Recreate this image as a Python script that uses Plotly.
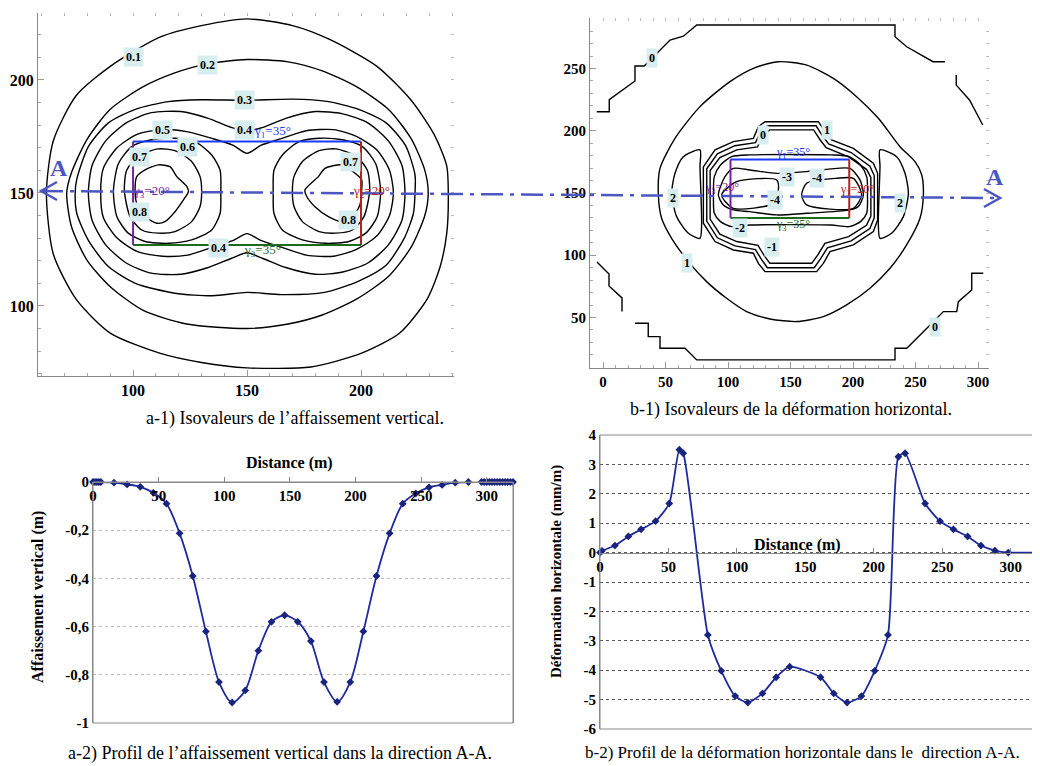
import plotly.graph_objects as go

W, H = 1040, 766
OFF = 8  # page margin of the browser around the figure
SERIF = "Liberation Serif"

# ---------------- a-1) isovaleurs de l'affaissement vertical (m) ----------------
a1_iso_01 = [(62, 150), (65, 173), (75, 193), (90, 206), (112, 219), (130, 224), (150, 227), (170, 224),
             (186, 218), (207, 206), (222, 191), (232, 176), (237.6, 162), (238.3, 150), (237.6, 132),
             (234.6, 117), (229, 103), (217, 88), (200, 79), (178, 73), (150, 72.6), (130, 75), (112, 79),
             (90, 88), (75, 103), (65, 123), (62, 150)]
a1_iso_02 = [(70.9, 150), (73, 159), (79.7, 173.5), (90, 187), (104.5, 197), (118, 203), (132, 207), (150, 209),
             (168, 208), (183, 204), (198, 197), (212, 187), (222, 174), (228, 160), (229.5, 150), (228, 140),
             (222, 126), (212, 113), (198, 103), (183, 96), (168, 92), (150, 90), (123.5, 92), (104.5, 98),
             (90, 108.5), (79.7, 120.4), (73, 135), (70.9, 150)]
a1_iso_03 = [(74.6, 150), (75.3, 156), (80.4, 170.5), (89.2, 181), (101, 187), (115.5, 190.4), (130, 191.2),
             (150, 191), (170, 191.5), (185, 190.5), (199, 187), (211, 181), (219.5, 171), (223.7, 158),
             (223.7, 150), (223, 141), (219, 130), (211, 118), (199, 111), (184, 106), (165, 105), (150, 106),
             (135, 104.5), (118.4, 105.6), (101, 110), (89.2, 117.4), (80.4, 129), (75.3, 141), (74.6, 150)]
a1_iso_04 = [(80.4, 150), (82, 162), (88, 173), (97, 181), (108, 185.5), (121, 186), (133, 183), (143, 179),
             (150, 177.5), (157, 179), (167, 183), (180, 186), (192, 185), (203, 181), (212, 173), (218, 162),
             (219.3, 150), (218, 138), (212, 127), (203, 119), (192, 115), (180, 114), (167, 117), (157, 121),
             (150, 123.5), (143, 121), (133, 117), (121, 114), (108, 114.5), (97, 119), (88, 127), (82, 138),
             (80.4, 150)]
a1_iso_05 = [(85.8, 150), (87, 161), (93, 170), (102, 176), (113, 178), (124, 177), (135, 174), (144, 171),
             (150, 167.5), (156, 171), (165, 174), (176, 177.5), (188, 178), (198, 175), (207, 169),
             (212.5, 160), (214.2, 150), (212.5, 140), (207, 131), (198, 125), (188, 122), (176, 122.5),
             (165, 126), (156, 129), (150, 132), (144, 129), (135, 126), (124, 122.5), (113, 122), (102, 124),
             (93, 130), (87, 139), (85.8, 150)]
a1_iso_06_g = [(91.4, 151), (93.6, 163), (99.4, 170.5), (108.2, 173.5), (118.4, 174.2), (127.2, 172.7),
               (134.5, 166.8), (138.2, 160), (138.5, 150), (138.2, 141), (134.5, 133.6), (125.7, 129.2),
               (115.5, 127.7), (105.3, 128.5), (97.9, 132.2), (92.9, 139.5), (91.4, 151)]
a1_iso_06_d = [(208.6, 151), (206.4, 163), (200.6, 170.5), (191.8, 173.5), (181.6, 174.2), (172.8, 172.7),
               (165.5, 166.8), (161.8, 160), (161.5, 150), (161.8, 141), (165.5, 133.6), (174.3, 129.2),
               (184.5, 127.7), (194.7, 128.5), (202.1, 132.2), (207.1, 139.5), (208.6, 151)]
a1_iso_07_g = [(96.2, 151), (97.2, 160), (102.3, 166.4), (111.1, 169.5), (118.4, 168.7), (125.7, 163.9),
               (129.4, 157.2), (130.1, 151), (129.4, 144), (125.7, 137.3), (118.4, 132.9), (111.1, 132.2),
               (103.8, 133.6), (98.7, 139.5), (96.2, 151)]
a1_iso_07_d = [(203.8, 151), (202.8, 160), (197.7, 166.4), (188.9, 169.5), (181.6, 168.7), (174.3, 163.9),
               (170.6, 157.2), (169.9, 151), (170.6, 144), (174.3, 137.3), (181.6, 132.9), (188.9, 132.2),
               (196.2, 133.6), (201.3, 139.5), (203.8, 151)]
a1_iso_08_g = [(100.9, 151.3), (101.6, 157.2), (105.3, 160.2), (111.1, 162.4), (116.2, 161.6), (119.2, 157.2),
               (123.6, 152.8), (124.3, 150.6), (122.1, 146.9), (118.4, 141.7), (114, 137.3), (110.4, 136.6),
               (105.3, 139.5), (101.6, 145.4), (100.9, 151.3)]
a1_iso_08_d = [(175.4, 151.3), (181.3, 157.2), (184.2, 160.9), (191.5, 162.4), (197.4, 158.7), (200.3, 155.8),
               (200.3, 151.3), (199.6, 145), (197.4, 141), (191.5, 137.3), (185.7, 139.5), (179.8, 143.9),
               (176.2, 148.4), (175.4, 151.3)]
a1_labels = [("0.1", 100, 210), ("0.2", 132.5, 206.6), ("0.3", 149, 191), ("0.4", 149, 178),
             ("0.5", 113, 178), ("0.6", 124, 170.4), ("0.7", 103, 166), ("0.8", 103, 141.6),
             ("0.4", 137.5, 125.6), ("0.7", 195.2, 163.7), ("0.8", 194.3, 138)]
a1_panel_x = [100, 200]
a1_panel_y = [127, 172.7]
a1_gammas = [("γ<sub>1</sub>=35°", 161, 177), ("γ<sub>3</sub>=20°", 108, 150.8),
             ("γ<sub>2</sub>=20°", 204.5, 150.8), ("γ<sub>3</sub>=35°", 157, 124.4)]

# ---------------- b-1) isovaleurs de la deformation horizontale (mm/m) ----------------
b1_iso_0_a = [(-5, 215.3), (5, 215.3), (5, 225), (16, 233), (25.6, 240), (25.6, 252), (33, 252), (53.6, 272.9),
              (64.3, 276), (75, 285), (233.6, 285), (233.6, 275.5), (243, 267.5), (264, 255.5), (273.6, 255.5)]
b1_iso_0_b = [(282.6, 244.8), (282.6, 236.7), (293.2, 224.7), (303.8, 204.6)]
b1_iso_0_c = [(304.2, 85.5), (295, 85.5), (295, 72.1), (284.3, 62.7), (283, 54.7), (272.3, 54.7), (256.3, 38.6),
              (243, 25.3), (233.6, 25.3), (233.6, 15.9), (75, 15.9), (65.6, 25.3), (45.6, 25.3), (45.6, 34.6),
              (36.2, 34.6), (36.2, 45.3), (25.6, 45.3)]
b1_iso_0_d = [(-4.8, 94.6), (4.8, 84.9), (4.8, 75.3), (15.2, 65.7), (15.2, 54.7)]
b1_iso_1 = [(44.3, 148.4), (45.6, 169.8), (57.6, 193.9), (77.6, 219.4), (101.6, 239.5), (120.3, 250.2),
            (140.3, 255.5), (163, 252.8), (184.3, 242.1), (202.9, 227.4), (220.3, 210), (237.6, 187.2),
            (249.6, 175.2), (255, 164.5), (256.3, 148.4), (253.6, 129.7), (242.9, 108.3), (229.6, 89.5),
            (213.6, 73.5), (194.9, 60.1), (176.3, 50.7), (154.9, 46.7), (133.6, 48.8), (114.9, 54.7),
            (98.9, 65.4), (82.9, 78.8), (68.3, 94.9), (54.9, 113.6), (46.9, 129.7), (44.3, 148.4)]
b1_iso_2_g = [(77.6, 184.6), (64.3, 179.2), (57.6, 165.8), (55, 149.8), (58.9, 131), (68.3, 117.6),
              (77.6, 113.6), (78.9, 124.3), (77.6, 171.2), (77.6, 184.6)]
b1_iso_2_d = [(221.6, 184.6), (234.9, 179.2), (241.6, 165.8), (244.3, 149.8), (240.3, 131), (230.9, 117.6),
              (221.6, 113.6), (220.3, 124.3), (221.6, 171.2), (221.6, 184.6)]
b1_iso_1_in = [(80.3, 148), (80.3, 171), (89.6, 184.6), (104.3, 191.3), (120.3, 193.9), (124.3, 203.3),
               (129.6, 207.3), (172.3, 207.3), (177.6, 199.3), (182.9, 192.6), (200.3, 185.9), (216.3, 173.9),
               (219.7, 165.8), (219.7, 128.3), (216.3, 119), (200.3, 108.3), (181.6, 102.9), (176.3, 93.5),
               (170.9, 86.8), (129.6, 86.8), (124.3, 93.5), (120.3, 101.6), (104.3, 104.2), (89.6, 111),
               (80.3, 125.7), (80.3, 148)]
b1_iso_0_in = [(83, 148), (83, 169.5), (91.5, 181.5), (105.5, 188), (122, 190.5), (126.5, 200), (131.5, 204),
               (170.5, 204), (175.5, 196), (180.5, 189.5), (198.5, 182.5), (213.5, 171.5), (217, 164),
               (217, 130), (213.5, 121.5), (198.5, 111.5), (179.5, 106), (174, 97), (169, 90), (131.5, 90),
               (126.5, 97), (122, 104.5), (105.5, 107.5), (91.5, 114), (83, 127.5), (83, 148)]
b1_iso_m1 = [(85.7, 148), (85.7, 168), (93.5, 178.5), (107, 184.7), (123.5, 187), (128.5, 196.7),
             (133.5, 200.7), (168.5, 200.7), (173.5, 193), (178.5, 186.5), (196.5, 179), (210.8, 169),
             (214.3, 162.5), (214.3, 131.5), (210.8, 124), (196.5, 115), (177.5, 109.5), (172, 100.5),
             (167, 93.5), (133.5, 93.5), (128.5, 100.5), (124, 108), (107, 111), (93.5, 117), (85.7, 129),
             (85.7, 148)]
b1_iso_m2 = [(88.4, 148.4), (89, 163), (94, 172.5), (103, 179.2), (117.6, 180.6), (182.4, 180.6), (197, 179.2),
             (206, 172.5), (211, 163), (211.6, 148.4), (211, 134), (206, 127), (197, 123), (182.4, 124.3),
             (117.6, 124.3), (103, 123), (94, 127), (89, 134), (88.4, 148.4)]
b1_iso_m3 = [(92.3, 148.4), (97.6, 163.1), (104.3, 169.8), (117.6, 168.5), (138.9, 165.8), (162.9, 167.2),
             (186.9, 169.8), (197.6, 169.8), (205.6, 160.5), (208.3, 148.4), (204.3, 139.1), (197.6, 136.4),
             (162.9, 133.7), (138.9, 132.4), (117.6, 135), (104.3, 136.4), (96.3, 140.4), (92.3, 148.4)]
b1_iso_m4_g = [(94.9, 148.4), (106.9, 159.1), (138.9, 160.5), (140.3, 152.4), (136.3, 141.7), (104.3, 137.7),
               (94.9, 148.4)]
b1_iso_m4_d = [(158.9, 148.4), (162.9, 157.8), (186.9, 161.8), (200.3, 161.8), (206.9, 148.4), (200.3, 137.7),
               (162.9, 140.4), (158.9, 148.4)]
b1_labels = [("0", 38.9, 258.2), ("0", 265.6, 42.7), ("1", 66.9, 93.5), ("2", 56.3, 145.7), ("2", 237.6, 141.7),
             ("0", 128.3, 196.6), ("1", 178.9, 200.6), ("-3", 146.9, 163.1), ("-4", 170.9, 161.8),
             ("-4", 137.6, 144.4), ("-2", 109.6, 121.6), ("-1", 134.9, 106.9)]
b1_panel_x = [102, 197]
b1_panel_y = [130, 177]
b1_gammas = [("γ<sub>1</sub>=35°", 152.3, 182.5), ("γ<sub>3</sub>=20°", 94.9, 153.8),
             ("γ<sub>1</sub>=20°", 202.9, 152.4), ("γ<sub>3</sub>=35°", 152.3, 124.3)]

# ---------------- a-2) profil de l'affaissement vertical ----------------
a2_dist = [0, 1.5, 3, 4.5, 6, 16, 26, 36, 46, 56, 66, 76, 86, 96, 106, 116, 126, 136, 146, 156, 166, 176, 186,
           196, 206, 216, 226, 236, 246, 256, 266, 276, 286, 296, 298, 300, 302, 304, 306, 308, 310, 312,
           314, 316, 318, 320]
a2_aff = [0, 0, 0, 0, 0, -0.003, -0.01, -0.02, -0.045, -0.09, -0.213, -0.39, -0.62, -0.83, -0.915, -0.865,
          -0.70, -0.58, -0.553, -0.58, -0.66, -0.83, -0.912, -0.83, -0.62, -0.39, -0.213, -0.09, -0.047,
          -0.022, -0.012, -0.003, 0, 0, 0, 0, 0, 0, 0, 0, 0, 0, 0, 0, 0, 0]

# ---------------- b-2) profil de la deformation horizontale ----------------
b2_dist = [0, 1.5, 10.9, 20.7, 30, 40.6, 50.6, 58, 60.8, 78.8, 88.6, 98.8, 108, 118.7, 128.7, 138.6, 161.1,
           170.8, 180.5, 191, 200.7, 210.4, 218, 222.9, 237.5, 248.4, 258.2, 268.6, 278.3, 288.5, 298.3, 318]
b2_def = [0, 0.06, 0.24, 0.55, 0.79, 1.07, 1.67, 3.5, 3.38, -2.8, -4.02, -4.88, -5.1, -4.79, -4.24, -3.88,
          -4.24, -4.79, -5.1, -4.88, -4.02, -2.8, 3.26, 3.38, 1.67, 1.07, 0.79, 0.55, 0.24, 0.07, 0, 0]

BLUE, PURPLE, RED, GREEN = "#1a3cff", "#7b1fa2", "#b8201c", "#1e6b1e"
GAMMA_COLORS = [BLUE, PURPLE, RED, GREEN]
NAVY = "#1f2a9e"


def px_x(px):
    return (px - OFF) / W


def px_y(py):
    return 1 - (py - OFF) / H


fig = go.Figure()


def poly(pts, xa, ya, color="black", width=1.4, shape="linear"):
    fig.add_trace(go.Scatter(x=[p[0] for p in pts], y=[p[1] for p in pts], mode="lines",
                             line=dict(color=color, width=width, shape=shape, smoothing=0.7),
                             xaxis=xa, yaxis=ya, hoverinfo="skip", showlegend=False))


for iso in [a1_iso_01, a1_iso_02, a1_iso_03, a1_iso_04, a1_iso_05, a1_iso_06_g, a1_iso_06_d,
            a1_iso_07_g, a1_iso_07_d, a1_iso_08_g, a1_iso_08_d]:
    poly(iso, "x", "y", shape="spline")

for iso in [b1_iso_0_a, b1_iso_0_b, b1_iso_0_c, b1_iso_0_d, b1_iso_1_in, b1_iso_0_in, b1_iso_m1]:
    poly(iso, "x2", "y2")
for iso in [b1_iso_1, b1_iso_2_g, b1_iso_2_d, b1_iso_m2, b1_iso_m3, b1_iso_m4_g, b1_iso_m4_d]:
    poly(iso, "x2", "y2", shape="spline")


def panel(px_, py_, xa, ya):
    (x0, x1), (y0, y1) = px_, py_
    poly([(x0, y1), (x1, y1)], xa, ya, BLUE, 2)
    poly([(x1, y1), (x1, y0)], xa, ya, RED, 2)
    poly([(x0, y0), (x1, y0)], xa, ya, GREEN, 2)
    poly([(x0, y0), (x0, y1)], xa, ya, PURPLE, 2)


panel(a1_panel_x, a1_panel_y, "x", "y")
panel(b1_panel_x, b1_panel_y, "x2", "y2")

# profiles
fig.add_trace(go.Scatter(x=a2_dist, y=a2_aff, mode="lines+markers", xaxis="x3", yaxis="y3",
                         line=dict(color=NAVY, width=1.8, shape="spline", smoothing=0.8),
                         marker=dict(symbol="diamond", size=6, color="#1a237e"),
                         cliponaxis=False, showlegend=False))
fig.add_trace(go.Scatter(x=b2_dist, y=b2_def, mode="lines+markers", xaxis="x4", yaxis="y4",
                         line=dict(color=NAVY, width=1.8, shape="spline", smoothing=0.6),
                         marker=dict(symbol="diamond", size=6, color="#1a237e"),
                         cliponaxis=False, showlegend=False))

# empty traces so the decorative top/right tick axes are drawn
for xa, ya in [("x5", "y"), ("x", "y5"), ("x6", "y2"), ("x2", "y6")]:
    fig.add_trace(go.Scatter(x=[], y=[], xaxis=xa, yaxis=ya, showlegend=False))

tick_bold = dict(family=SERIF, size=16, color="black", weight="bold")
tick_bold15 = dict(family=SERIF, size=15, color="black", weight="bold")
minor10 = dict(dtick=10, ticks="inside", ticklen=3, tickcolor="#aaa")
deco = dict(showline=False, ticks="inside", ticklen=3, tickcolor="#bbb", dtick=10,
            showticklabels=False, showgrid=False, zeroline=False, automargin=False)

a1_xr, a1_yr = [58.3, 240.8], [69.0, 229.6]
b1_xr, b1_yr = [-10.4, 308.8], [9.4, 290.6]
b2_yr = [-6, 4]
y3_dom = [px_y(723), px_y(482)]
y4_dom = [px_y(729), px_y(435)]
x4_pos = y4_dom[0] + (0 - b2_yr[0]) / (b2_yr[1] - b2_yr[0]) * (y4_dom[1] - y4_dom[0])

fig.update_layout(
    width=W, height=H, margin=dict(l=0, r=0, t=0, b=0, autoexpand=False),
    paper_bgcolor="white", plot_bgcolor="white", showlegend=False,
    font=dict(family=SERIF, color="black"),
    xaxis=dict(domain=[px_x(38), px_x(454)], range=a1_xr, anchor="y", showline=True, linecolor="#888",
               ticks="inside", ticklen=6, tickcolor="#999", tickvals=[100, 150, 200], minor=minor10,
               showgrid=False, zeroline=False, tickfont=tick_bold, automargin=False),
    yaxis=dict(domain=[px_y(376), px_y(13)], range=a1_yr, anchor="x", showline=True, linecolor="#888",
               ticks="inside", ticklen=6, tickcolor="#999", tickvals=[100, 150, 200], minor=minor10,
               showgrid=False, zeroline=False, tickfont=tick_bold, automargin=False),
    xaxis5=dict(overlaying="x", side="top", anchor="y", range=a1_xr, **deco),
    yaxis5=dict(overlaying="y", side="right", anchor="x", range=a1_yr, **deco),
    xaxis2=dict(domain=[px_x(590), px_x(989)], range=b1_xr, anchor="y2", showline=True, linecolor="#888",
                ticks="inside", ticklen=6, tickcolor="#999", tickvals=[0, 50, 100, 150, 200, 250, 300],
                minor=minor10, showgrid=False, zeroline=False, tickfont=tick_bold15, automargin=False),
    yaxis2=dict(domain=[px_y(368), px_y(18)], range=b1_yr, anchor="x2", showline=True, linecolor="#888",
                ticks="inside", ticklen=6, tickcolor="#999", tickvals=[50, 100, 150, 200, 250],
                minor=minor10, showgrid=False, zeroline=False, tickfont=tick_bold15, automargin=False),
    xaxis6=dict(overlaying="x2", side="top", anchor="y2", range=b1_xr, **deco),
    yaxis6=dict(overlaying="y2", side="right", anchor="x2", range=b1_yr, **deco),
    xaxis3=dict(domain=[px_x(93), px_x(513)], range=[0, 320], anchor="free", position=y3_dom[1], side="bottom",
                showline=True, linecolor="#888", ticks="inside", ticklen=5, tickcolor="#888",
                tickvals=[0, 50, 100, 150, 200, 250, 300], showgrid=False, zeroline=False,
                tickfont=tick_bold15, automargin=False),
    yaxis3=dict(domain=y3_dom, range=[-1, 0], anchor="x3", showline=True, linecolor="#888",
                mirror=True, ticks="", tickvals=[0, -0.2, -0.4, -0.6, -0.8, -1],
                ticktext=["0", "-0,2", "-0,4", "-0,6", "-0,8", "-1"], showgrid=True, gridcolor="#bbb",
                griddash="dot", zeroline=False, tickfont=tick_bold15, automargin=False),
    xaxis4=dict(domain=[px_x(600), px_x(1038)], range=[0, 320], anchor="free", position=x4_pos, side="bottom",
                showline=True, linecolor="#888", ticks="inside", ticklen=5, tickcolor="#888",
                tickvals=[0, 50, 100, 150, 200, 250, 300], showgrid=False, zeroline=False,
                tickfont=tick_bold15, automargin=False),
    yaxis4=dict(domain=y4_dom, range=b2_yr, anchor="x4", showline=True, linecolor="#888", mirror=True,
                ticks="", tickvals=list(range(-6, 5)), ticktext=[str(v) for v in range(-6, 5)],
                showgrid=True, gridcolor="#555", griddash="dot", zeroline=False, tickfont=tick_bold15,
                automargin=False),
)

for xr, yr in [("x3", "y3"), ("x4", "y4")]:
    fig.add_shape(type="rect", xref=f"{xr} domain", yref=f"{yr} domain", x0=0, x1=1, y0=0, y1=1,
                  line=dict(color="#888", width=1))

# section line A-A across both maps
AA = "#4b56c0"
fig.add_shape(type="line", xref="paper", yref="paper", x0=px_x(41), y0=px_y(191), x1=px_x(1000), y1=px_y(198),
              line=dict(color=AA, width=2.5, dash="22px,7px,4px,7px"))
fig.add_shape(type="path", xref="paper", yref="paper",
              path=f"M {px_x(57)},{px_y(182)} L {px_x(41)},{px_y(191)} L {px_x(57)},{px_y(200)}",
              line=dict(color=AA, width=2.5))
fig.add_shape(type="path", xref="paper", yref="paper",
              path=f"M {px_x(984)},{px_y(189)} L {px_x(1000)},{px_y(198)} L {px_x(984)},{px_y(207)}",
              line=dict(color=AA, width=2.5))

CENTER = dict(xanchor="center", yanchor="middle", showarrow=False)
for x, y in [(59, 168), (995, 177)]:
    fig.add_annotation(xref="paper", yref="paper", x=px_x(x), y=px_y(y), text="<b>A</b>",
                       font=dict(family=SERIF, size=24, color=AA), **CENTER)

# contour labels
for txt, x, y in a1_labels:
    fig.add_annotation(xref="x", yref="y", x=x, y=y, text=f"<b>{txt}</b>", bgcolor="#d8eded", borderpad=2,
                       font=dict(family=SERIF, size=12, color="black"), **CENTER)
for txt, x, y in b1_labels:
    fig.add_annotation(xref="x2", yref="y2", x=x, y=y, text=f"<b>{txt}</b>", bgcolor="#d8eded", borderpad=2,
                       font=dict(family=SERIF, size=12, color="black"), **CENTER)
for (txt, x, y), c in zip(a1_gammas, GAMMA_COLORS):
    fig.add_annotation(xref="x", yref="y", x=x, y=y, text=txt, font=dict(family=SERIF, size=13, color=c),
                       **CENTER)
for (txt, x, y), c in zip(b1_gammas, GAMMA_COLORS):
    fig.add_annotation(xref="x2", yref="y2", x=x, y=y, text=txt, font=dict(family=SERIF, size=12, color=c),
                       **CENTER)

# axis titles
fig.add_annotation(xref="paper", yref="paper", x=px_x(289), y=px_y(463), text="<b>Distance (m)</b>",
                   font=dict(family=SERIF, size=16), **CENTER)
fig.add_annotation(xref="paper", yref="paper", x=px_x(797), y=px_y(545), text="<b>Distance (m)</b>",
                   font=dict(family=SERIF, size=16), **CENTER)
fig.add_annotation(xref="paper", yref="paper", x=px_x(38), y=px_y(597), text="<b>Affaissement vertical (m)</b>",
                   textangle=-90, font=dict(family=SERIF, size=16), **CENTER)
fig.add_annotation(xref="paper", yref="paper", x=px_x(556), y=px_y(572),
                   text="<b>Déformation horizontale (mm/m)</b>", textangle=-90,
                   font=dict(family=SERIF, size=15), **CENTER)

# captions
captions = [("a-1) Isovaleurs de l’affaissement vertical.", 295, 419, 18),
            ("b-1) Isovaleurs de la déformation horizontal.", 791, 410, 18),
            ("a-2) Profil de l’affaissement vertical dans la direction A-A.", 280, 753, 18),
            ("b-2) Profil de la déformation horizontale dans le  direction A-A.", 802, 752, 17)]
for txt, x, y, size in captions:
    fig.add_annotation(xref="paper", yref="paper", x=px_x(x), y=px_y(y), text=txt,
                       font=dict(family=SERIF, size=size, color="black"), **CENTER)

fig.write_html("out.html")
